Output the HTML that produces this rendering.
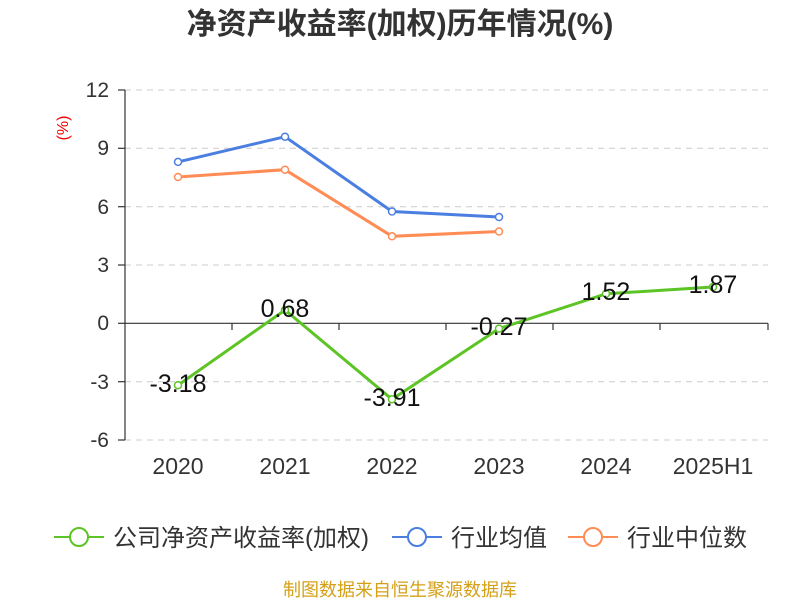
<!DOCTYPE html>
<html><head><meta charset="utf-8"><style>
body{margin:0;background:#fff;}
svg text{font-family:"Liberation Sans","Noto Sans CJK SC",sans-serif;}
</style></head><body>
<svg width="800" height="600" xmlns="http://www.w3.org/2000/svg">
<text x="400" y="34" text-anchor="middle" font-size="30" font-weight="bold" fill="#333">净资产收益率(加权)历年情况(%)</text>
<text x="68" y="128" font-size="16" fill="#e00" transform="rotate(-90 68 128)" text-anchor="middle">(%)</text>
<g stroke="#ccc" stroke-dasharray="6,5" stroke-width="1">
<line x1="125" y1="90" x2="768" y2="90"/><line x1="125" y1="148.3" x2="768" y2="148.3"/>
<line x1="125" y1="206.7" x2="768" y2="206.7"/><line x1="125" y1="265" x2="768" y2="265"/>
<line x1="125" y1="381.7" x2="768" y2="381.7"/><line x1="125" y1="440" x2="768" y2="440"/>
</g>
<g stroke="#333" stroke-width="1.2">
<line x1="125" y1="90" x2="125" y2="440"/>
<line x1="125" y1="323.3" x2="768" y2="323.3"/>
<line x1="118" y1="90" x2="125" y2="90"/><line x1="118" y1="148.3" x2="125" y2="148.3"/>
<line x1="118" y1="206.7" x2="125" y2="206.7"/><line x1="118" y1="265" x2="125" y2="265"/>
<line x1="118" y1="323.3" x2="125" y2="323.3"/><line x1="118" y1="381.7" x2="125" y2="381.7"/>
<line x1="118" y1="440" x2="125" y2="440"/>
<line x1="232" y1="323.3" x2="232" y2="330"/><line x1="339" y1="323.3" x2="339" y2="330"/>
<line x1="446" y1="323.3" x2="446" y2="330"/><line x1="553" y1="323.3" x2="553" y2="330"/>
<line x1="660" y1="323.3" x2="660" y2="330"/><line x1="768" y1="323.3" x2="768" y2="330"/>
</g>
<g font-size="21" fill="#333" text-anchor="end">
<text x="109" y="97">12</text><text x="109" y="155">9</text><text x="109" y="214">6</text>
<text x="109" y="272">3</text><text x="109" y="330">0</text><text x="109" y="389">-3</text><text x="109" y="447">-6</text>
</g>
<g font-size="23" fill="#333" text-anchor="middle">
<text x="178" y="474">2020</text><text x="285" y="474">2021</text><text x="392" y="474">2022</text>
<text x="499" y="474">2023</text><text x="606" y="474">2024</text><text x="713" y="474">2025H1</text>
</g>
<polyline fill="none" stroke="#4a7ee0" stroke-width="3" points="178,161.9 285,136.7 392,211.5 499,217"/>
<polyline fill="none" stroke="#ff8c55" stroke-width="3" points="178,177 285,169.7 392,236.3 499,231.5"/>
<polyline fill="none" stroke="#5cc424" stroke-width="3" points="178,385.2 285,310 392,399.3 499,328.6 606,293.8 713,287"/>
<g fill="#fff" stroke-width="1.5">
<g stroke="#4a7ee0"><circle cx="178" cy="161.9" r="3.5"/><circle cx="285" cy="136.7" r="3.5"/><circle cx="392" cy="211.5" r="3.5"/><circle cx="499" cy="217" r="3.5"/></g>
<g stroke="#ff8c55"><circle cx="178" cy="177" r="3.5"/><circle cx="285" cy="169.7" r="3.5"/><circle cx="392" cy="236.3" r="3.5"/><circle cx="499" cy="231.5" r="3.5"/></g>
<g stroke="#5cc424"><circle cx="178" cy="385.2" r="3.5"/><circle cx="285" cy="310" r="3.5"/><circle cx="392" cy="399.3" r="3.5"/><circle cx="499" cy="328.6" r="3.5"/><circle cx="606" cy="293.8" r="3.5"/><circle cx="713" cy="287" r="3.5"/></g>
</g>
<g font-size="25" fill="#111" text-anchor="middle">
<text x="178" y="392">-3.18</text><text x="285" y="317">0.68</text><text x="392" y="406">-3.91</text>
<text x="499" y="335">-0.27</text><text x="606" y="300">1.52</text><text x="713" y="293">1.87</text>
</g>
<g stroke-width="2" fill="#fff">
<line x1="54" y1="537" x2="104" y2="537" stroke="#5cc424"/><circle cx="79" cy="537" r="9" stroke="#5cc424"/>
<line x1="392" y1="537" x2="442" y2="537" stroke="#4a7ee0"/><circle cx="417" cy="537" r="9" stroke="#4a7ee0"/>
<line x1="568" y1="537" x2="618" y2="537" stroke="#ff8c55"/><circle cx="593" cy="537" r="9" stroke="#ff8c55"/>
</g>
<g font-size="24" fill="#333">
<text x="113" y="546">公司净资产收益率(加权)</text><text x="451" y="546">行业均值</text><text x="627" y="546">行业中位数</text>
</g>
<text x="400" y="596" text-anchor="middle" font-size="18" fill="#d4a017">制图数据来自恒生聚源数据库</text>
</svg>
</body></html>
